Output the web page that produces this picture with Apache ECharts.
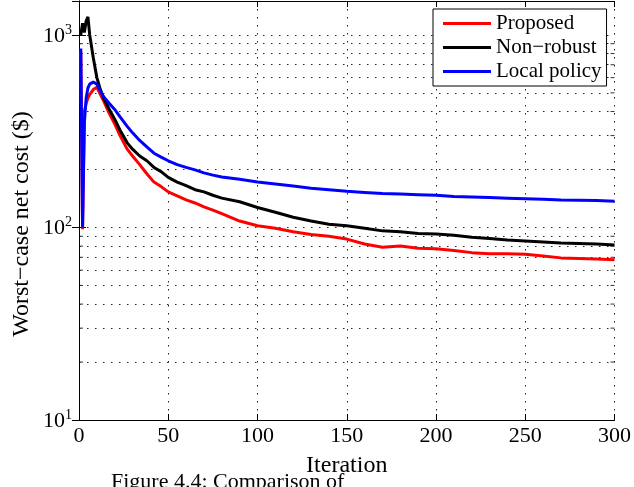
<!DOCTYPE html>
<html>
<head>
<meta charset="utf-8">
<script src="https://cdn.jsdelivr.net/npm/echarts@6/dist/echarts.min.js"></script>
<style>
html,body{margin:0;padding:0;background:#fff;}
#chart{width:634px;height:487px;}
</style>
</head>
<body>
<div id="chart"></div>
<script>
// ---- data ----
var iterations = [1,2,3,4,5,6,8,10,12,14,17,20,23,27,30,34,38,42,46,50,55,60,65,70,75,80,90,100,110,120,130,140,150,160,170,180,190,200,210,220,230,240,250,260,270,280,290,300];
var proposed = [820,98,400,440,470,490,520,535,490,450,390,345,300,255,235,212,190,172,163,153,146,139,134,128,123,118,108,102,99,95,92,90,87,82,79,80,78,77.5,76,74,73,73,72.5,71,69.5,69,68.5,68];
var nonRobust = [1000,1150,1030,1180,1240,1000,760,600,520,465,410,365,320,275,255,235,222,205,195,182,172,165,157,153,147,142,136,127,120,113,108,104,102,99,96,95,93,92.5,91,89,87.5,86,85,84,83,82.5,82,81];
var localPolicy = [850,100,350,470,530,555,570,555,510,475,440,410,375,335,310,283,262,243,232,222,212,205,199,192,187,183,178,172,168,164,160,157,154,152,150,149,148,147,145,144,143,142,141,140,139,138.5,138,137];
var seriesNames = ['Proposed','Non\u2212robust','Local policy'];
var xTicks = [0,50,100,150,200,250,300];
var yMajor = [10,100,1000];
var yMinor = [20,30,40,50,60,70,80,90,200,300,400,500,600,700,800,900];
var xTitle = 'Iteration';
var yTitle = 'Worst\u2212case net cost ($)';
var caption = 'Figure 4.4: Comparison of';

var FONT = 'Liberation Serif';
function pairs(vals){ return iterations.map(function(x,i){ return [x, vals[i]]; }); }

var dotted = {color:'#000', width:1, type:[1.5,6.5], opacity:0.85};

var chart = echarts.init(document.getElementById('chart'), null, {renderer:'canvas'});
var option = {
  animation:false,
  backgroundColor:'#fff',
  grid:{left:79, right:18, top:1, bottom:67, containLabel:false},
  legend:{
    data:seriesNames,
    left:433, top:9,
    orient:'vertical',
    icon:'rect',
    z:50,
    backgroundColor:'#ffffff',
    borderColor:'#000', borderWidth:1, borderRadius:0,
    padding:[4,5,4,10],
    itemWidth:48, itemHeight:3, itemGap:3,
    textStyle:{fontFamily:FONT, fontSize:21, lineHeight:21, color:'#000'}
  },
  xAxis:[{
    type:'value', min:0, max:300, interval:50, position:'bottom',
    name:xTitle, nameLocation:'middle', nameGap:34,
    nameTextStyle:{fontFamily:FONT, fontSize:24, color:'#000'},
    axisLine:{show:true, lineStyle:{color:'#000', width:1}},
    axisTick:{show:true, inside:true, length:6, lineStyle:{color:'#000'}},
    axisLabel:{fontFamily:FONT, fontSize:22, color:'#000', margin:5,
      formatter:function(v){ return xTicks.indexOf(v)>=0 ? String(v) : ''; }},
    splitLine:{show:true, lineStyle:dotted}
  },{
    type:'value', min:0, max:300, interval:50, position:'top',
    axisLine:{show:true, lineStyle:{color:'#000', width:1}},
    axisTick:{show:true, inside:true, length:6, lineStyle:{color:'#000'}},
    axisLabel:{show:false}, splitLine:{show:false}
  }],
  yAxis:[{
    type:'log', logBase:10, min:10, max:1500, position:'left',
    axisLine:{show:true, lineStyle:{color:'#000', width:1}},
    axisTick:{show:true, inside:true, length:7, lineStyle:{color:'#000'}},
    axisLabel:{margin:7, fontFamily:FONT, fontSize:22, color:'#000',
      formatter:function(v){
        var e = Math.round(Math.log(v)/Math.LN10);
        if (Math.abs(Math.pow(10,e)-v) > 1e-6*v) return '';
        return '{b|10}{s|' + e + '}';
      },
      rich:{
        b:{fontFamily:FONT, fontSize:22, color:'#000', verticalAlign:'bottom'},
        s:{fontFamily:FONT, fontSize:14, color:'#000', verticalAlign:'bottom', padding:[0,0,10,0]}
      }},
    splitLine:{show:true, lineStyle:dotted}
  },{
    type:'log', logBase:10, min:10, max:1500, position:'right',
    axisLine:{show:true, lineStyle:{color:'#000', width:1}},
    axisTick:{show:true, inside:true, length:7, lineStyle:{color:'#000'}},
    axisLabel:{show:false}, splitLine:{show:false}
  }],
  series:[
    {
      name:'gridMinor', type:'line', data:[], silent:true, xAxisIndex:0, yAxisIndex:0, z:0,
      markLine:{silent:true, symbol:'none', label:{show:false}, lineStyle:dotted, z:0,
        data:yMinor.map(function(v){ return {yAxis:v}; })}
    },
    {
      name:'minorTicksL', type:'scatter', silent:true, xAxisIndex:0, yAxisIndex:0,
      symbol:'rect', symbolSize:[4,1], symbolOffset:[2,0],
      itemStyle:{color:'#000'},
      data:yMinor.map(function(v){ return [0, v]; })
    },
    {
      name:'minorTicksR', type:'scatter', silent:true, xAxisIndex:0, yAxisIndex:0,
      symbol:'rect', symbolSize:[4,1], symbolOffset:[-2,0],
      itemStyle:{color:'#000'},
      data:yMinor.map(function(v){ return [300, v]; })
    },
    {
      name:seriesNames[0], type:'line', data:pairs(proposed), symbol:'none',
      lineStyle:{color:'#ff0000', width:3}, itemStyle:{color:'#ff0000'}, z:3
    },
    {
      name:seriesNames[1], type:'line', data:pairs(nonRobust), symbol:'none',
      lineStyle:{color:'#000000', width:3}, itemStyle:{color:'#000000'}, z:3
    },
    {
      name:seriesNames[2], type:'line', data:pairs(localPolicy), symbol:'none',
      lineStyle:{color:'#0000ff', width:3}, itemStyle:{color:'#0000ff'}, z:3
    }
  ],
  graphic:[{
    type:'text', x:22, y:224, rotation:Math.PI/2, silent:true,
    style:{text:yTitle, font:'24px "Liberation Serif"', fill:'#000', align:'center', verticalAlign:'middle'}
  },{
    type:'text', left:111, top:471, silent:true,
    style:{text:caption, font:'22px "Liberation Serif"', fill:'#000'}
  }]
};
chart.setOption(option);
</script>
</body>
</html>
